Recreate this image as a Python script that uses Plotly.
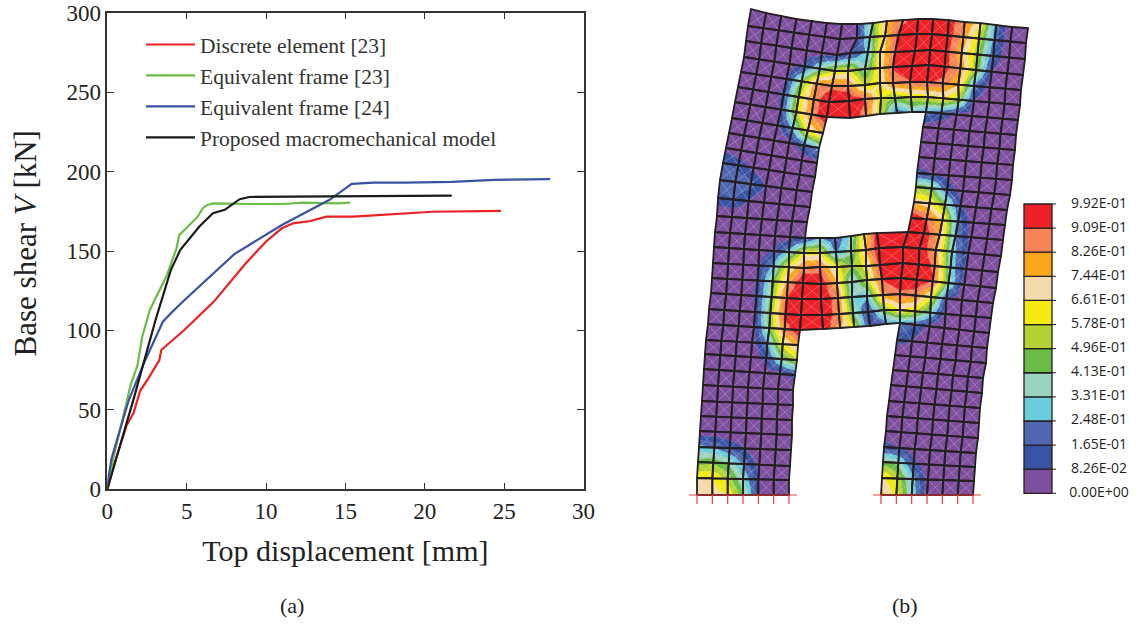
import plotly.graph_objects as go

# ---------- panel (a): capacity curves ----------
red_x = [0, 0.5, 1.23, 1.66, 2.07, 2.6, 3.28, 3.4, 4.85, 5.52, 6.7, 8.7, 10.0, 11.0, 11.7, 12.8, 13.8, 15.5, 20.5, 24.8]
red_y = [0, 18, 40.5, 48.2, 62, 70, 81.4, 87.7, 100.3, 106.6, 118, 142, 156, 164.3, 167.4, 168.9, 171.6, 171.6, 174.7, 175.2]
green_x = [0, 0.4, 1.0, 1.47, 1.9, 2.2, 2.68, 3.76, 4.36, 4.53, 5.7, 6.0, 6.3, 6.7, 8.95, 11.1, 12.3, 14.5, 15.3]
green_y = [0, 20.6, 45.7, 65.7, 78, 96, 112.9, 134.9, 151.7, 160, 171.6, 176.8, 179, 180, 179.6, 179.6, 180.4, 180, 180.4]
blue_x = [0, 0.27, 1.04, 1.35, 2.3, 3.5, 4.1, 4.85, 8.0, 11.0, 14.0, 15.4, 16.8, 18.8, 21.7, 24.4, 27.9]
blue_y = [3, 19.5, 45.7, 56, 79.3, 105.5, 111.8, 119, 148, 166.4, 182.2, 192.3, 193, 193, 193.5, 194.8, 195.2]
black_x = [0, 1.7, 3.04, 3.4, 4.0, 4.6, 5.8, 6.65, 7.4, 8.34, 8.95, 14.0, 21.7]
black_y = [0, 58.3, 106.6, 119, 138, 150.7, 165.4, 173.8, 175.9, 182.6, 184, 184.4, 184.8]
names = ["Discrete element [23]", "Equivalent frame [23]", "Equivalent frame [24]", "Proposed macromechanical model"]
line_colors = ["#ed2024", "#6abd45", "#3953a4", "#1a1a1a"]
x_ticks = [0, 5, 10, 15, 20, 25, 30]
y_ticks = [0, 50, 100, 150, 200, 250, 300]

# ---------- panel (b): damage contour on the deformed mesh ----------
band_colors = ["#7f4f9f", "#3953a4", "#4e67b0", "#6bcddb", "#9ad3bf", "#6abd45",
               "#b4d234", "#f2ea11", "#f4d9a9", "#faa61a", "#f58357", "#ee2226"]
level_labels = ["0.00E+00", "8.26E-02", "1.65E-01", "2.48E-01", "3.31E-01", "4.13E-01", "4.96E-01",
                "5.78E-01", "6.61E-01", "7.44E-01", "8.26E-01", "9.09E-01", "9.92E-01"]
levels = [0, 8.26, 16.5, 24.8, 33.1, 41.3, 49.6, 57.8, 66.1, 74.4, 82.6, 90.9, 99.2]

# nodal values in percent, row 31 (top) down to row 0 (base); None = opening
H = [None] * 5
field = [
    [0,0,0,0,0,0,0, 8,43,78,88,96, 100,95,85,66,20,0,0],
    [0,0,0,0,0,0,0, 8,36,72,95,100, 100,96,80,56,20,0,0],
    [0,0,0,0,0,2,4, 8,28,66,92,100, 100,95,75,52,16,0,0],
    [0,0,0,0,10,38,58, 62,35,68,92,100, 100,95,82,50,8,0,0],
    [0,0,0,8,45,82,88, 85,55,66,85,90, 92,88,75,22,2,0,0],
    [0,0,0,10,55,85,100, 100,92,58,48,58, 60,65,52,8,0,0,0],
    [0,0,0,10,55,85,100, 100,85,58,15,30, 22,15,6,0,0,0,0],
    [0,0,0,3,28,65,78] + H + [3,0,0,0,0,0,0],
    [0,0,0,0,2,15,30] + H + [0,0,0,0,0,0,0],
    [5,0,0,0,0,0,3] + H + [0,0,0,0,0,0,0],
    [18,14,5,0,0,0,0] + H + [12,8,3,0,0,0,0],
    [22,22,20,8,0,0,0] + H + [48,45,15,0,0,0,0],
    [14,16,8,0,0,0,0] + H + [72,68,45,10,0,0,0],
    [0,0,0,0,0,0,0] + H + [100,90,72,22,0,0,0],
    [0,0,0,0,0,3,10, 25,15,35,68,96, 100,98,78,25,4,0,0],
    [0,0,0,0,9,30,62, 62,22,38,75,100, 100,100,80,30,7,0,0],
    [0,0,0,8,28,65,85, 86,62,48,62,95, 100,100,88,32,5,0,0],
    [0,0,0,9,42,80,100, 98,75,30,55,92, 100,100,92,40,2,0,0],
    [0,0,0,10,45,92,100, 100,85,33,28,80, 88,85,62,10,0,0,0],
    [0,0,0,8,48,96,100, 100,85,42,9,48, 66,58,35,3,0,0,0],
    [0,0,0,5,45,85,100, 100,78,58,10,20, 25,15,5,0,0,0,0],
    [0,0,0,2,24,62,78] + H + [12,8,0,0,0,0,0],
    [0,0,0,0,12,40,55] + H + [0,0,0,0,0,0,0],
    [0,0,0,0,0,5,12] + H + [0,0,0,0,0,0,0],
    [0,0,0,0,0,0,0] + H + [0,0,0,0,0,0,0],
    [0,0,0,0,0,0,0] + H + [0,0,0,0,0,0,0],
    [0,0,0,0,0,0,0] + H + [0,0,0,0,0,0,0],
    [0,0,0,0,0,0,0] + H + [0,0,0,0,0,0,0],
    [28,24,15,8,0,0,0] + H + [12,8,0,0,0,0,0],
    [45,48,40,22,3,0,0] + H + [45,38,12,0,0,0,0],
    [66,66,55,33,9,0,0] + H + [68,56,28,3,0,0,0],
    [70,70,66,44,8,0,0] + H + [78,62,32,4,0,0,0],
]

# mesh lines in page pixels, index = row from base (0) to top (31)
col0_x = [697,697,698,699,700,701,702,703,704,705,706,708,709,711,712,713,714,715,717,718,720,723,726,729,732,735,738,741,744,746,748,751]
col0_y = [495,478,462,447,431,416,401,385,369,354,340,324,309,293,278,263,247,232,216,198,180,163,148,133,118,102,87,72,57,41,26,9]
col6_x = [789,789,790,791,792,792,793,793,795,797,798,800,801,802,803,804,804,805,807,810,812,815,817,819,823,827,829,832,835,837,840,842]
col6_y = [495,480,466,450,435,420,405,390,375,360,345,330,315,299,283,268,253,238,222,207,192,177,163,148,133,117,102,86,71,55,39,24]
col12_x = [881,882,883,884,886,887,889,891,893,895,897,900,900,900,901,903,903,908,911,914,916,917,919,921,923,926,928,927,929,930,932,933]
col12_y = [495,478,462,447,431,416,401,385,370,355,340,323,310,294,278,263,247,232,218,202,187,173,157,142,127,112,97,82,65,50,34,19]
col18_x = [973,974,975,976,978,979,980,982,983,986,987,989,991,993,996,998,1001,1003,1005,1007,1010,1012,1013,1015,1016,1018,1020,1021,1023,1025,1026,1028]
col18_y = [495,481,467,453,438,423,408,393,378,363,348,333,318,303,288,272,256,240,225,210,195,180,165,150,135,120,105,90,75,59,43,28]
top_y = [9,13,16,19,21,23,24,24,23,21,20,19,19,20,22,23,25,27,28]
# interior spandrel nodes, columns 7..11, rows 11..17 and rows 25..31
low_span_x = [
    [823,840,854,870,886], [822,839,853,868,884], [821,838,852,867,883], [821,837,852,867,882],
    [820,837,852,866,880], [820,836,851,866,879], [820,835,851,864,877]]
low_span_y = [
    [329,328,327,326,324], [315,314,313,312,310], [299,298,297,296,295], [284,283,282,280,279],
    [267,267,266,266,265], [253,252,251,250,248], [238,238,236,234,233]]
up_span_x = [
    [850,866,880,897,912], [849,865,881,895,911], [848,865,880,893,910], [848,865,880,893,912],
    [850,868,880,895,915], [857,870,885,899,917], [857,873,887,903,918]]
up_span_y = [
    [118,116,114,113,112], [101,99,98,98,97], [86,85,83,83,82], [71,69,68,67,66],
    [53,52,52,52,51], [38,37,36,35,34], [24,23,21,20,19]]


def build_nodes():
    nodes = {}
    for r in range(32):
        for c in range(19):
            if c <= 6:
                t = c / 6
                x, y = col0_x[r] + t * (col6_x[r] - col0_x[r]), col0_y[r] + t * (col6_y[r] - col0_y[r])
            elif c >= 12:
                t = (c - 12) / 6
                x, y = col12_x[r] + t * (col18_x[r] - col12_x[r]), col12_y[r] + t * (col18_y[r] - col12_y[r])
            elif 11 <= r <= 17:
                x, y = low_span_x[r - 11][c - 7], low_span_y[r - 11][c - 7]
            elif r >= 25:
                x, y = up_span_x[r - 25][c - 7], up_span_y[r - 25][c - 7]
            else:
                continue
            if r == 31:
                y = top_y[c]
            nodes[(r, c)] = (x, y, field[31 - r][c])
    return nodes


nodes = build_nodes()
elements = []
for r in range(31):
    for c in range(18):
        corners = [(r, c), (r, c + 1), (r + 1, c + 1), (r + 1, c)]
        if 6 <= c <= 11 and (r <= 10 or 17 <= r <= 24):
            continue
        elements.append([nodes[k] for k in corners])


def clip(poly, limit, keep_above):
    out = []
    n = len(poly)
    for i in range(n):
        a, b = poly[i], poly[(i + 1) % n]
        ina = a[2] >= limit if keep_above else a[2] <= limit
        inb = b[2] >= limit if keep_above else b[2] <= limit
        if ina:
            out.append(a)
        if ina != inb:
            t = (limit - a[2]) / (b[2] - a[2])
            out.append((a[0] + t * (b[0] - a[0]), a[1] + t * (b[1] - a[1]), limit))
    return out


band_x = [[] for _ in band_colors]
band_y = [[] for _ in band_colors]
cross_x, cross_y, mesh_x, mesh_y = [], [], [], []
for el in elements:
    cx = sum(p[0] for p in el) / 4
    cy = sum(p[1] for p in el) / 4
    cv = sum(p[2] for p in el) / 4
    centre = (cx, cy, cv)
    for i in range(4):
        tri = [el[i], el[(i + 1) % 4], centre]
        for b in range(len(band_colors)):
            poly = tri
            if b > 0:
                poly = clip(poly, levels[b], True)
            if poly and b < len(band_colors) - 1:
                poly = clip(poly, levels[b + 1], False)
            if len(poly) >= 3:
                band_x[b] += [p[0] for p in poly] + [poly[0][0], None]
                band_y[b] += [p[1] for p in poly] + [poly[0][1], None]
    cross_x += [el[0][0], el[2][0], None, el[1][0], el[3][0], None]
    cross_y += [el[0][1], el[2][1], None, el[1][1], el[3][1], None]
    mesh_x += [p[0] for p in el] + [el[0][0], None]
    mesh_y += [p[1] for p in el] + [el[0][1], None]

fig = go.Figure()
series = [(red_x, red_y), (green_x, green_y), (blue_x, blue_y), (black_x, black_y)]
for i, (xs, ys) in enumerate(series):
    fig.add_trace(go.Scatter(x=xs, y=ys, mode="lines", name=names[i], legendgroup=names[i],
                             line=dict(color=line_colors[i], width=2.2), xaxis="x", yaxis="y"))

for b, col in enumerate(band_colors):
    fig.add_trace(go.Scatter(x=band_x[b], y=band_y[b], mode="lines", fill="toself", fillcolor=col,
                             line=dict(color=col, width=0.4), showlegend=False, hoverinfo="skip",
                             xaxis="x2", yaxis="y2"))
fig.add_trace(go.Scatter(x=cross_x, y=cross_y, mode="lines", line=dict(color="rgba(255,255,255,0.3)", width=0.8),
                         showlegend=False, hoverinfo="skip", xaxis="x2", yaxis="y2"))
fig.add_trace(go.Scatter(x=mesh_x, y=mesh_y, mode="lines", line=dict(color="#231f20", width=1.8),
                         showlegend=False, hoverinfo="skip", xaxis="x2", yaxis="y2"))

# supports
sup_x, sup_y = [], []
for first, last in [(0, 6), (12, 18)]:
    sup_x += [nodes[(0, first)][0] - 8, nodes[(0, last)][0] + 8, None]
    sup_y += [495, 495, None]
    for c in range(first, last + 1):
        sup_x += [nodes[(0, c)][0], nodes[(0, c)][0], None]
        sup_y += [495, 504, None]
fig.add_trace(go.Scatter(x=sup_x, y=sup_y, mode="lines", line=dict(color="#ee3a43", width=1.2),
                         showlegend=False, hoverinfo="skip", xaxis="x2", yaxis="y2"))

# colour key
CB_TOP, CB_BOT = 204.0, 493.3
step = (CB_BOT - CB_TOP) / len(band_colors)
n = len(band_colors)
fig.add_trace(go.Bar(x=[1038] * n, y=[step] * n, base=[CB_BOT - (i + 1) * step for i in range(n)], width=28,
                     marker=dict(color=band_colors, line=dict(color="#231f20", width=1.3)),
                     showlegend=False, hoverinfo="skip", xaxis="x2", yaxis="y2"))
tick_x, tick_y = [], []
label_y = []
for i in range(len(level_labels)):
    yy = CB_BOT - i * step
    tick_x += [1052, 1056, None]
    tick_y += [yy, yy, None]
    label_y.append(yy)
fig.add_trace(go.Scatter(x=tick_x, y=tick_y, mode="lines", line=dict(color="#231f20", width=1),
                         showlegend=False, hoverinfo="skip", xaxis="x2", yaxis="y2"))
fig.add_trace(go.Scatter(x=[1099] * len(level_labels), y=label_y, mode="text", text=level_labels,
                         textposition="middle center", textfont=dict(family="Open Sans", size=14, color="#231f20"),
                         showlegend=False, hoverinfo="skip", xaxis="x2", yaxis="y2"))

W, H_PX = 1137, 628
SERIF = "Liberation Serif"
axis_common = dict(showgrid=False, zeroline=False, showline=True, linecolor="#333333", linewidth=1.5,
                   mirror="allticks", ticks="inside", ticklen=7, tickwidth=1.2, tickcolor="#333333",
                   automargin=False, tickfont=dict(family=SERIF, size=23, color="#222222"))
fig.update_layout(
    width=W, height=H_PX, autosize=False, margin=dict(l=0, r=0, t=0, b=0),
    paper_bgcolor="white", plot_bgcolor="rgba(0,0,0,0)", barmode="overlay",
    xaxis=dict(domain=[107.3 / W, 583.5 / W], range=[0, 30], tickvals=x_ticks, anchor="y",
               title=dict(text="Top displacement [mm]", font=dict(family=SERIF, size=30, color="#222222"), standoff=17),
               **axis_common),
    yaxis=dict(domain=[1 - 489.3 / H_PX, 1 - 12.7 / H_PX], range=[0, 300], tickvals=y_ticks, anchor="x",
               title=dict(text="&nbsp;&nbsp;Base shear <i>V</i> [kN]", font=dict(family=SERIF, size=31, color="#222222"), standoff=21),
               **axis_common),
    xaxis2=dict(domain=[0, 1], range=[0, W], visible=False, anchor="y2", fixedrange=True, automargin=False),
    yaxis2=dict(domain=[0, 1], range=[H_PX, 0], visible=False, anchor="x2", fixedrange=True, automargin=False),
    legend=dict(x=141 / W, y=1 - 24 / H_PX, xanchor="left", yanchor="top", bgcolor="rgba(0,0,0,0)",
                font=dict(family=SERIF, size=21.5, color="#333333"), itemwidth=49, tracegroupgap=0,
                traceorder="normal"),
    annotations=[
        dict(text="(a)", x=292, y=605, xref="x2", yref="y2", showarrow=False,
             font=dict(family=SERIF, size=22, color="#222222")),
        dict(text="(b)", x=905, y=605, xref="x2", yref="y2", showarrow=False,
             font=dict(family=SERIF, size=22, color="#222222")),
    ],
)
fig.write_html("out.html", config={"displayModeBar": False}, post_script="document.body.style.margin='0';")
